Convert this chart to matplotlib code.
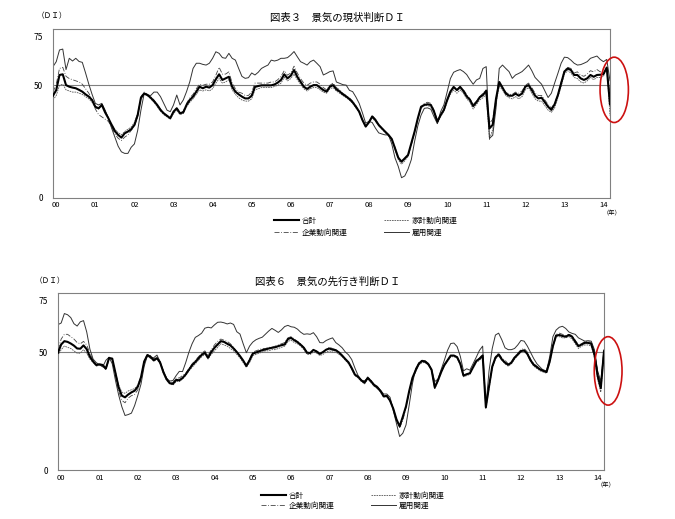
import numpy as np
import matplotlib
matplotlib.use("Agg")
import matplotlib.pyplot as plt
from matplotlib.patches import Ellipse

plt.rcParams['font.family'] = ['Noto Sans CJK JP', 'DejaVu Sans']

year_labels = ["00", "01", "02", "03", "04", "05", "06", "07",
               "08", "09", "10", "11", "12", "13", "14"]

# monthly DI, Jan 2000 - Apr 2014
# 図表３ 現状判断DI
now_total = [
    45.4, 47.9, 54.6, 54.9, 50.1, 49.4, 49.0, 48.7, 48.0, 47.2, 46.0, 45.0,
    43.5, 40.5, 39.8, 41.3, 38.0, 35.4, 32.4, 29.7, 28.0, 26.8, 28.7, 29.5,
    30.5, 32.4, 36.8, 44.5, 46.4, 45.7, 44.5, 43.0, 41.3, 39.1, 37.6, 36.5,
    35.4, 38.3, 39.8, 37.6, 38.0, 41.3, 43.5, 45.0, 47.2, 49.4, 48.7, 49.4,
    49.0, 50.1, 52.7, 54.9, 52.4, 53.1, 53.8, 49.4, 47.2, 46.0, 45.0, 44.2,
    44.2, 45.4, 49.3, 49.7, 50.0, 50.0, 50.0, 50.0, 50.4, 51.2, 52.4, 54.9,
    53.1, 54.3, 56.8, 53.8, 51.6, 49.4, 48.4, 49.4, 50.1, 50.1, 49.0, 47.9,
    47.2, 49.4, 50.1, 48.2, 47.3, 46.0, 45.1, 43.9, 42.5, 40.5, 38.3, 34.6,
    31.7, 33.6, 36.2, 34.6, 32.4, 30.9, 29.4, 28.0, 26.2, 22.0, 17.9, 16.1,
    17.6, 19.1, 24.3, 29.4, 35.4, 40.5, 41.3, 41.6, 41.3, 38.3, 33.9, 36.8,
    39.1, 43.5, 47.2, 49.3, 47.9, 49.3, 47.5, 45.1, 43.6, 40.8, 42.5, 44.7,
    45.7, 47.6, 30.9, 32.5, 44.0, 51.5, 49.0, 46.4, 45.4, 45.4, 46.3, 45.4,
    46.4, 49.4, 50.1, 47.9, 45.4, 44.2, 44.5, 42.5, 40.5, 39.1, 41.6, 45.7,
    50.9, 56.1, 57.5, 56.8, 54.6, 54.6, 53.1, 52.4, 53.1, 54.6, 53.8, 54.6,
    54.7, 55.0, 57.9, 41.6]
now_household = [
    43.5, 45.5, 50.0, 50.5, 48.0, 47.5, 47.0, 47.0, 46.5, 46.0, 45.0, 44.0,
    42.5, 40.0, 39.5, 41.5, 38.5, 35.5, 33.0, 30.5, 29.0, 28.0, 29.5, 30.5,
    31.5, 33.5, 37.5, 44.0, 46.0, 45.5, 44.0, 42.5, 40.5, 38.5, 37.0, 36.0,
    35.0, 37.5, 39.0, 37.0, 37.5, 40.5, 42.5, 44.0, 46.0, 48.0, 47.5, 48.0,
    47.5, 48.5, 51.0, 53.0, 51.0, 51.5, 52.5, 48.0, 46.0, 44.5, 43.5, 43.0,
    43.0, 44.0, 48.0, 48.5, 49.0, 49.0, 49.0, 49.0, 49.5, 50.0, 51.0, 53.5,
    52.0, 53.0, 55.0, 52.5, 50.5, 48.5, 47.5, 48.5, 49.0, 49.0, 48.0, 47.0,
    46.5, 48.5, 49.0, 47.5, 46.5, 45.5, 44.5, 43.5, 42.0, 40.0, 38.0, 34.5,
    31.5, 33.5, 35.5, 34.0, 32.0, 30.5, 29.0, 27.5, 26.0, 21.5, 17.0, 15.0,
    16.5, 18.5, 24.0, 29.5, 35.0, 40.0, 41.0, 41.0, 40.5, 37.5, 33.0, 36.0,
    38.5, 42.5, 46.0, 48.0, 46.5, 48.0, 46.5, 44.0, 42.5, 39.5, 41.5, 43.5,
    44.5, 46.0, 26.0, 30.5, 42.0, 49.5, 48.0, 45.5, 44.5, 44.0, 45.0, 44.0,
    45.0, 48.0, 49.0, 46.5, 44.0, 43.0, 43.0, 41.0, 39.0, 38.0, 40.0, 44.5,
    49.5, 55.0, 56.5, 55.5, 53.5, 53.0, 51.5, 51.0, 52.0, 53.5, 52.5, 53.5,
    53.5, 54.0, 58.0, 36.5]
now_corporate = [
    47.0, 50.5, 57.5, 58.0, 54.0, 53.0, 52.5, 52.0, 51.5, 50.5, 48.5, 46.5,
    43.5, 39.5, 37.0, 36.0, 35.0, 34.0, 31.5, 28.5, 26.5, 25.5, 27.0, 28.0,
    30.0, 32.0, 36.0, 45.0, 47.0, 46.0, 45.0, 43.5, 41.5, 39.5, 37.5, 36.5,
    35.5, 38.5, 40.0, 38.0, 38.5, 42.0, 44.5, 46.0, 48.5, 50.5, 50.0, 50.5,
    50.5, 51.5, 54.5, 58.0, 55.0, 55.0, 56.0, 51.0, 48.5, 47.0, 46.5, 45.5,
    45.5, 47.0, 51.0, 51.0, 51.0, 51.0, 51.0, 51.5, 51.5, 52.5, 54.0, 56.5,
    54.5, 55.5, 58.5, 55.5, 53.0, 51.0, 50.0, 51.0, 51.5, 51.5, 50.5, 49.0,
    48.0, 50.0, 51.0, 49.0, 48.0, 46.5, 45.5, 44.5, 43.0, 41.0, 38.5, 34.5,
    32.0, 33.5, 36.5, 35.0, 32.5, 31.0, 29.5, 28.0, 26.0, 22.5, 18.0, 16.5,
    17.5, 18.5, 23.5, 29.0, 35.0, 40.0, 42.0, 42.5, 42.0, 39.0, 34.5, 37.0,
    39.0, 43.5, 47.0, 49.0, 48.0, 49.5, 48.0, 46.0, 44.0, 41.5, 43.0, 45.0,
    46.5, 48.0, 33.0, 35.0, 44.0, 50.0, 49.0, 47.0, 46.0, 46.0, 47.0, 46.5,
    47.5, 50.0, 51.0, 49.0, 46.5, 45.5, 45.5, 43.5, 41.5, 40.0, 42.0, 46.0,
    51.5, 56.5, 58.0, 57.5, 55.5, 56.0, 54.5, 54.0, 55.0, 56.5, 56.0, 57.0,
    56.0, 56.0, 57.0, 46.0]
now_employment = [
    58.3, 60.5, 65.7, 66.1, 57.0, 62.0, 60.8, 62.0, 60.6, 60.2, 55.5, 50.5,
    46.0, 42.0, 41.3, 42.0, 39.0, 35.5, 31.0, 27.0, 23.0, 20.5, 19.8, 19.8,
    22.5, 24.0, 30.0, 39.0, 46.4, 45.7, 45.5, 47.0, 47.0, 45.0, 42.0, 39.0,
    38.3, 41.3, 45.7, 41.3, 43.5, 47.2, 51.6, 57.5, 59.8, 59.8, 59.3, 59.0,
    59.8, 62.0, 64.9, 64.2, 62.3, 62.0, 64.2, 62.0, 61.2, 57.5, 54.0, 53.1,
    53.4, 55.5, 54.6, 55.8, 57.5, 58.3, 59.0, 61.2, 60.8, 61.2, 62.0, 62.0,
    62.3, 63.5, 65.0, 62.7, 60.5, 59.8, 59.0, 60.5, 61.2, 59.8, 58.3, 54.6,
    55.3, 56.1, 56.4, 51.5, 50.9, 50.3, 50.1, 47.8, 47.2, 44.8, 42.0, 37.8,
    33.2, 34.0, 33.5, 31.0, 28.9, 28.4, 28.0, 28.0, 24.0, 17.8, 14.0, 9.0,
    9.8, 12.8, 17.0, 25.0, 32.0, 36.8, 39.8, 40.0, 39.4, 36.0, 33.0, 38.3,
    41.3, 47.0, 53.0, 55.8, 56.5, 57.0, 56.1, 54.8, 52.5, 50.5, 52.4, 53.1,
    57.5, 58.3, 26.5, 27.8, 39.8, 57.5, 59.0, 57.5, 56.1, 53.1, 54.6, 55.3,
    56.1, 57.5, 59.0, 56.5, 53.5, 52.0, 50.5, 47.6, 44.6, 46.5, 51.0, 55.3,
    59.8, 62.5, 62.3, 61.2, 59.8, 59.0, 59.2, 59.8, 60.5, 62.0, 62.5, 63.0,
    61.5, 60.5, 61.5, 52.0]

# 図表６ 先行き判断DI
fut_total = [
    49.7, 53.2, 54.6, 54.3, 53.6, 52.7, 51.5, 51.4, 52.8, 51.2, 48.0, 46.0,
    44.5, 44.8, 44.5, 43.0, 47.5, 47.2, 41.0, 35.0, 31.5, 30.8, 32.0, 32.9,
    33.6, 35.3, 39.3, 46.0, 48.7, 48.0, 46.5, 47.4, 45.5, 41.5, 38.5, 36.8,
    36.5, 38.2, 38.0, 39.0, 40.5, 42.5, 44.4, 45.8, 47.3, 48.8, 49.7, 47.6,
    50.0, 51.8, 53.2, 54.6, 54.3, 53.5, 52.8, 51.5, 50.0, 48.3, 46.4, 44.1,
    46.5, 49.3, 49.8, 50.3, 50.8, 51.1, 51.5, 51.8, 52.0, 52.5, 52.9, 53.2,
    55.5, 56.0, 55.0, 54.2, 53.1, 51.8, 49.7, 49.6, 50.9, 50.2, 49.2, 50.0,
    51.0, 51.5, 51.0, 50.8, 49.8, 48.5, 47.0, 45.6, 43.2, 40.4, 39.5, 38.0,
    37.0, 39.0, 37.7, 36.0, 35.0, 33.5, 31.2, 31.4, 29.4, 26.0, 21.5, 18.5,
    22.6, 27.0, 33.5, 39.0, 42.2, 45.0, 46.2, 45.9, 44.8, 42.5, 35.0, 38.0,
    41.5, 44.5, 46.5, 48.5, 48.5, 47.8, 45.0, 40.0, 40.6, 41.0, 43.6, 46.2,
    47.1, 48.5, 26.6, 35.5, 43.8, 47.6, 49.0, 46.9, 45.5, 44.6, 45.5, 47.6,
    49.0, 50.4, 50.7, 49.2, 46.5, 44.6, 43.6, 42.6, 42.0, 41.5, 46.0, 52.5,
    57.0, 57.2, 56.8, 56.5, 57.2, 56.5, 54.4, 52.5, 53.2, 53.9, 53.9, 53.5,
    49.0, 40.0, 34.7, 50.3]
fut_household = [
    48.5, 51.0, 52.5, 52.0, 51.5, 50.5, 49.5, 49.5, 51.0, 49.5, 47.0, 45.5,
    44.0, 44.5, 44.0, 42.5, 47.0, 47.0, 41.5, 36.0, 33.0, 32.5, 33.5, 34.0,
    34.5, 36.0, 39.5, 45.5, 48.5, 47.5, 46.0, 47.0, 45.0, 41.0, 38.0, 36.5,
    36.0, 37.5, 37.5, 38.5, 40.0, 42.0, 43.5, 45.0, 46.5, 48.0, 49.0, 47.0,
    49.0, 50.5, 52.0, 53.5, 53.0, 52.5, 51.5, 50.5, 49.0, 47.5, 45.5, 43.5,
    45.5, 48.5, 49.0, 49.5, 50.0, 50.5, 50.5, 51.0, 51.0, 51.5, 52.0, 52.5,
    54.5, 55.0, 54.0, 53.5, 52.5, 51.0, 49.0, 49.0, 50.0, 49.5, 48.5, 49.0,
    50.0, 50.5, 50.0, 50.0, 49.0, 48.0, 46.5, 45.0, 42.5, 40.0, 39.0, 37.5,
    36.5, 38.5, 37.0, 35.5, 34.5, 33.0, 31.0, 31.0, 29.0, 26.0, 21.5, 18.5,
    22.5, 27.0, 33.5, 39.0, 42.0, 44.5, 45.5, 45.5, 44.5, 42.0, 34.5, 37.5,
    41.0, 44.0, 46.0, 48.0, 48.0, 47.5, 44.5, 39.5, 40.0, 40.5, 43.0, 45.5,
    46.5, 48.0, 26.0, 34.5, 43.0, 47.0, 48.5, 46.5, 45.0, 44.0, 45.0, 47.0,
    48.5, 50.0, 50.5, 49.0, 46.0, 44.0, 43.0, 42.0, 41.5, 41.0, 45.5, 52.0,
    56.5, 56.5, 56.0, 56.0, 56.5, 55.5, 53.5, 51.5, 52.5, 53.0, 53.0, 52.5,
    48.0, 38.5, 33.0, 49.5]
fut_corporate = [
    51.0, 55.5, 57.5, 57.5, 56.5, 55.5, 54.0, 53.5, 54.5, 53.0, 49.5, 46.5,
    44.5, 44.5, 44.0, 42.5, 47.5, 47.0, 40.0, 33.5, 29.5, 28.5, 30.5, 31.5,
    32.0, 34.0, 38.5, 46.5, 49.0, 48.5, 47.0, 48.0, 46.0, 42.0, 39.0, 37.5,
    37.0, 39.0, 39.0, 40.0, 41.0, 43.0, 45.0, 46.5, 48.0, 49.5, 50.5, 48.5,
    51.0, 53.0, 54.5, 55.5, 55.0, 54.5, 53.5, 52.0, 50.0, 48.0, 46.0, 44.5,
    47.0, 50.0, 50.5, 51.0, 51.5, 51.5, 52.0, 52.0, 52.5, 53.0, 53.5, 54.0,
    56.0, 56.5, 55.5, 54.5, 53.5, 52.0, 50.0, 49.5, 51.0, 50.5, 49.5, 50.0,
    51.0, 52.0, 51.5, 51.0, 50.0, 48.5, 47.0, 45.5, 43.0, 40.5, 39.5, 38.0,
    37.0, 39.5, 38.0, 36.0, 35.0, 33.5, 31.5, 31.5, 29.5, 26.5, 21.0, 18.0,
    21.0, 26.5, 33.0, 38.5, 41.5, 45.5, 46.5, 46.0, 45.0, 42.5, 34.5, 38.0,
    41.5, 44.5, 46.5, 48.5, 48.5, 48.0, 45.5, 40.0, 40.5, 41.0, 44.0, 46.5,
    47.5, 49.0, 28.0, 35.5, 43.5, 48.0, 49.5, 47.5, 46.5, 45.0, 46.0, 48.0,
    49.5, 51.0, 51.5, 50.0, 47.0, 45.0, 44.0, 43.0, 42.5, 42.0, 46.5, 53.0,
    57.5, 58.0, 57.5, 57.0, 57.5, 57.0, 55.0, 53.0, 53.5, 54.5, 54.5, 54.0,
    50.0, 42.0, 36.5, 51.0]
fut_employment = [
    61.6, 62.3, 66.3, 65.8, 64.6, 62.0, 61.0, 62.8, 63.3, 58.5, 51.2, 47.0,
    45.5, 44.6, 43.7, 46.5, 47.8, 45.0, 38.0, 31.8, 26.8, 23.1, 23.5, 24.1,
    27.3, 31.6, 36.4, 44.0, 48.5, 47.3, 47.6, 48.7, 45.8, 42.0, 38.8, 37.7,
    37.9, 40.0, 41.8, 41.7, 45.5, 49.9, 53.5, 56.2, 57.0, 58.0, 60.1, 60.5,
    60.2, 61.5, 62.6, 62.7, 62.4, 61.9, 62.3, 61.7, 58.6, 57.6, 53.5, 49.7,
    52.5, 54.2, 55.2, 55.8, 56.3, 57.6, 58.9, 60.0, 59.2, 58.3, 59.4, 60.8,
    61.3, 60.7, 60.5, 59.7, 58.4, 57.5, 57.7, 57.5, 58.2, 56.5, 54.0, 53.9,
    54.9, 55.5, 56.0, 54.0, 53.0, 51.8, 50.0, 48.8, 46.8, 43.2, 40.0, 38.0,
    37.8, 39.0, 37.8, 36.3, 35.5, 33.8, 32.2, 32.2, 30.8, 25.3, 19.7, 14.2,
    15.6, 19.1, 27.6, 36.5, 43.0, 45.2, 46.5, 46.3, 45.2, 42.5, 37.5, 38.5,
    42.6, 46.5, 50.7, 53.6, 53.8, 52.3, 48.2, 42.0, 42.9, 42.3, 45.0, 47.8,
    50.7, 52.5, 26.6, 42.0, 51.5, 57.2, 58.0, 55.2, 51.8, 51.0, 51.0, 51.5,
    53.0, 54.9, 54.6, 52.5, 49.8, 47.2, 45.0, 43.6, 42.2, 42.0, 48.0, 56.5,
    59.3, 60.5, 60.9, 60.0, 58.5, 57.9, 57.5, 56.0, 55.3, 54.6, 54.8, 54.6,
    51.0, 42.0, 37.5, 51.0]


def draw_panel(ax, total, household, corporate, employment, xpad, circle_y):
    x = np.arange(len(total))
    h1, = ax.plot(x, total, color='black', lw=1.5, label='合計', zorder=5)
    h2, = ax.plot(x, household, color='#555555', lw=0.6, ls=(0, (2, 1)),
                  label='家計動向関連')
    h3, = ax.plot(x, corporate, color='#444444', lw=0.6, ls=(0, (6, 2, 1, 2)),
                  label='企業動向関連')
    h4, = ax.plot(x, employment, color='#333333', lw=0.7, label='雇用関連')
    ax.axhline(50, color='#808080', lw=0.8, zorder=1)
    ax.set_xlim(0, len(total) - 1)
    ax.set_ylim(0, 75)
    ax.set_yticks([0, 50])
    ax.set_xticks(np.arange(len(year_labels)) * 12 + 1)
    ax.set_xticklabels(year_labels)
    ax.tick_params(axis='y', length=0, labelsize=6, pad=7)
    ax.tick_params(axis='x', length=0, labelsize=5.5, pad=xpad)
    for s in ax.spines.values():
        s.set_color('#808080')
        s.set_linewidth(0.8)
    ax.annotate('75', xy=(0, 75), xycoords=('axes fraction', 'data'),
                xytext=(-7, -6), textcoords='offset points',
                ha='right', va='center', fontsize=6)
    ax.annotate('（年）', xy=(1, 0), xycoords='axes fraction',
                xytext=(1.5, -8), textcoords='offset points',
                ha='center', va='top', fontsize=4.5)
    # red circle round the latest months
    last = len(total) - 1
    ax.add_patch(Ellipse((last + 1.3, circle_y), 8.7, 29, fill=False,
                         edgecolor='#cc1111', lw=1.2, clip_on=False, zorder=6))
    return [h1, h3, h2, h4]


fig = plt.figure(figsize=(6.75, 5.19), dpi=100)

ax1 = fig.add_axes([0.0785, 0.6185, 0.8252, 0.3256])
handles = draw_panel(ax1, now_total, now_household, now_corporate,
                     now_employment, 2.5, 48)
fig.text(0.50, 0.965, '図表３　景気の現状判断ＤＩ', ha='center', va='center',
         fontsize=7.5)
fig.text(0.077, 0.969, '（ＤＩ）', ha='center', va='center', fontsize=5.5)
fig.legend(handles=handles, loc='upper left', bbox_to_anchor=(0.40, 0.589),
           ncol=2, frameon=False, fontsize=5.5, handlelength=3.3,
           handletextpad=0.3, columnspacing=4.8, labelspacing=0.45,
           borderpad=0)

ax2 = fig.add_axes([0.0859, 0.0944, 0.8089, 0.3410])
handles = draw_panel(ax2, fut_total, fut_household, fut_corporate,
                     fut_employment, 3, 42)
fig.text(0.486, 0.4566, '図表６　景気の先行き判断ＤＩ', ha='center',
         va='center', fontsize=7.5)
fig.text(0.074, 0.4586, '（ＤＩ）', ha='center', va='center', fontsize=5.5)
fig.legend(handles=handles, loc='upper left', bbox_to_anchor=(0.381, 0.060),
           ncol=2, frameon=False, fontsize=5.5, handlelength=3.3,
           handletextpad=0.3, columnspacing=4.8, labelspacing=0.3,
           borderpad=0)

fig.savefig('out.png', dpi=100)
